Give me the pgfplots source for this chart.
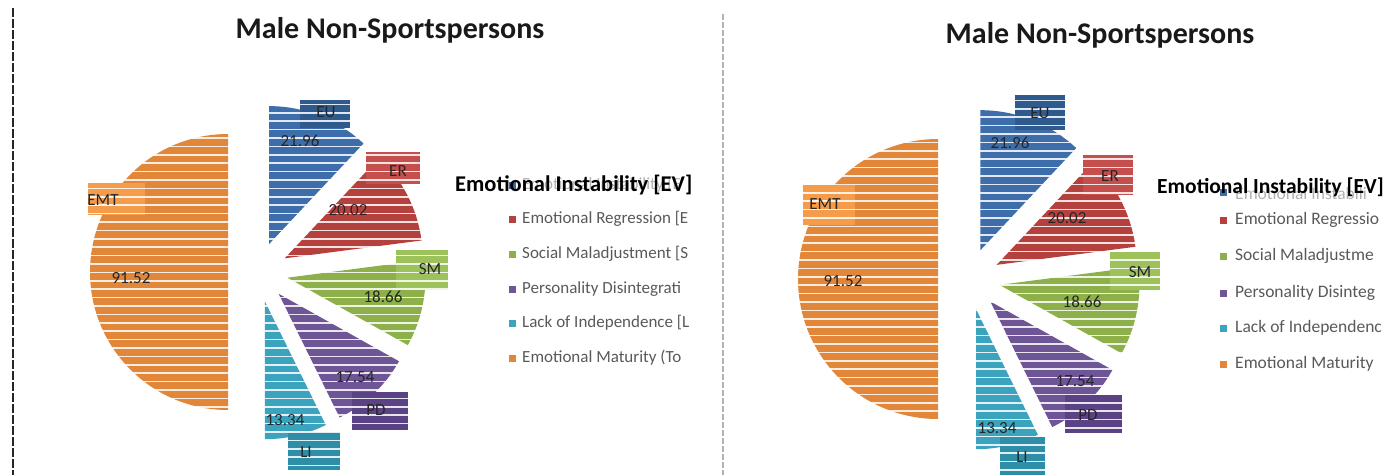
\documentclass[border=0pt]{standalone}
\usepackage{pgfplots}
\pgfplotsset{compat=1.18}
\usepackage{fontspec}
\setmainfont{Carlito}
\usetikzlibrary{calc}

\definecolor{cEU}{HTML}{3D6DAA}
\definecolor{cER}{HTML}{B4413E}
\definecolor{cSM}{HTML}{8DB04B}
\definecolor{cPD}{HTML}{6E5596}
\definecolor{cLI}{HTML}{3BA3BD}
\definecolor{cEMT}{HTML}{E2863A}
\definecolor{bEU}{HTML}{2E5A8E}
\definecolor{bER}{HTML}{C44F4C}
\definecolor{bSM}{HTML}{9EC25B}
\definecolor{bPD}{HTML}{5A4284}
\definecolor{bLI}{HTML}{2F8EA7}
\definecolor{bEMT}{HTML}{F49C4A}

% component values (EU, ER, SM, PD, LI) and the total EMT
\def\piedata{21.96/cEU,20.02/cER,18.66/cSM,17.54/cPD,13.34/cLI}
\def\emtval{91.52}

\newcommand\pieslice[7]{% cx cy r d a1 a2 color
  \pgfmathsetmacro\pmid{(#5+#6)/2}%
  \edef\temp{\noexpand\fill[#7] ($(axis cs:#1,#2)+(\pmid:#4pt)$) -- ++(#5:#3pt) arc[start angle=#5,end angle=#6,radius=#3pt] -- cycle;}%
  \temp}

\newcommand\drawpie[4]{% cx cy r d
  \pgfmathsetmacro\tot{21.96+20.02+18.66+17.54+13.34+\emtval}%
  \pgfmathsetmacro\kdeg{360/\tot}%
  \xdef\cum{0}%
  \foreach \v/\c in \piedata {%
    \pgfmathsetmacro\aone{90-\kdeg*\cum}%
    \pgfmathsetmacro\atwo{90-\kdeg*(\cum+\v)}%
    \pieslice{#1}{#2}{#3}{#4}{\aone}{\atwo}{\c}%
    \pgfmathsetmacro\newcum{\cum+\v}%
    \xdef\cum{\newcum}%
  }%
  \pgfmathsetmacro\aemt{90+\kdeg*\emtval}%
  \pieslice{#1}{#2}{#3}{#4}{90}{\aemt}{cEMT}%
}

\begin{document}
\begin{tikzpicture}
\begin{axis}[hide axis, x=1pt, y=1pt, y dir=reverse,
  xmin=0, xmax=1393, ymin=0, ymax=475, clip=false, scale only axis]
  \coordinate (O) at (axis cs:0,0);
  % left chart
  \drawpie{258}{272}{138}{30}
  \fill[bEU] (axis cs:300,100) rectangle (axis cs:350,128);
  \fill[bER] (axis cs:366,152) rectangle (axis cs:420,184);
  \fill[bSM] (axis cs:396,250) rectangle (axis cs:448,290);
  \fill[bPD] (axis cs:352,392) rectangle (axis cs:408,430);
  \fill[bLI] (axis cs:288,432) rectangle (axis cs:340,470);
  \fill[bEMT] (axis cs:88,183) rectangle (axis cs:145,215);
  % right chart
  \drawpie{969}{279}{140}{31}
  \fill[bEU] (axis cs:1015,95) rectangle (axis cs:1065,130);
  \fill[bER] (axis cs:1083,155) rectangle (axis cs:1133,195);
  \fill[bSM] (axis cs:1110,252) rectangle (axis cs:1160,290);
  \fill[bPD] (axis cs:1065,395) rectangle (axis cs:1122,433);
  \fill[bLI] (axis cs:1000,437) rectangle (axis cs:1045,475);
  \fill[bEMT] (axis cs:803,185) rectangle (axis cs:855,225);
  % scan stripes
  \pgfplotsinvokeforeach{0,...,45}{%
    \draw[white, line width=1.5pt, opacity=0.85] (axis cs:80,{96+#1*8.4}) -- (axis cs:452,{96+#1*8.4});
    \draw[white, line width=1.5pt, opacity=0.85] (axis cs:790,{92+#1*8.4}) -- (axis cs:1162,{92+#1*8.4});
  }
\end{axis}

\begin{scope}[shift={(O)}, x=1pt, y=-1pt]
  % frame lines
  \draw[black!85, dash pattern=on 9pt off 2pt, line width=1.8pt] (13,8) -- (13,475);
  \draw[black!30, dash pattern=on 6pt off 2pt, line width=1.2pt] (723,14) -- (723,475);
  % titles
  \node[font=\bfseries\fontsize{30}{36}\selectfont, text=black!90] at (390,30) {Male Non-Sportspersons};
  \node[font=\bfseries\fontsize{30}{36}\selectfont, text=black!90] at (1100,35) {Male Non-Sportspersons};
  % data labels
  \begin{scope}[every node/.style={font=\fontsize{17}{20}\selectfont, text=black!85, inner sep=0pt}]
    \node at (300,141) {21.96};
    \node at (348,210) {20.02};
    \node at (383,297) {18.66};
    \node at (355,377) {17.54};
    \node at (285,420) {13.34};
    \node at (131,278) {91.52};
    \node at (326,112) {EU};
    \node at (398,171) {ER};
    \node at (430,269) {SM};
    \node at (376,410) {PD};
    \node at (306,452) {LI};
    \node at (103,200) {EMT};
    \node at (1010,143) {21.96};
    \node at (1067,218) {20.02};
    \node at (1082,302) {18.66};
    \node at (1075,381) {17.54};
    \node at (997,428) {13.34};
    \node at (843,281) {91.52};
    \node at (1040,113) {EU};
    \node at (1110,176) {ER};
    \node at (1140,272) {SM};
    \node at (1088,415) {PD};
    \node at (1022,457) {LI};
    \node at (825,204) {EMT};
  \end{scope}
  % left legend (cut at the chart's right edge, as in the reference)
  \fill[cEU] (509,181.5) rectangle (516,188.5);
  \node[anchor=west, inner sep=0pt, font=\fontsize{17}{20}\selectfont, text=black!30] at (522,185) {Emotional Instability [E};
  \foreach \y/\c/\t in {219/cER/Emotional Regression [E,254/cSM/Social Maladjustment [S,289/cPD/Personality Disintegrati,323/cLI/Lack of Independence [L,358/cEMT/Emotional Maturity (To} {
    \fill[\c] (509,\y-3.5) rectangle (516,\y+3.5);
    \node[anchor=west, inner sep=0pt, font=\fontsize{17}{20}\selectfont, text=black!65] at (522,\y) {\t};
  }
  \node[anchor=west, inner sep=0pt, font=\bfseries\fontsize{22.5}{26}\selectfont] at (455,185) {Emotional Instability [EV]};
  % right legend
  \fill[cEU] (1220,188.5) rectangle (1227,195.5);
  \node[anchor=west, inner sep=0pt, font=\fontsize{17.5}{20}\selectfont, text=black!30] at (1235,193) {Emotional Instabili};
  \foreach \y/\c/\t in {220/cER/Emotional Regressio,256/cSM/Social Maladjustme,293/cPD/Personality Disinteg,328/cLI/Lack of Independenc,364/cEMT/Emotional Maturity} {
    \fill[\c] (1220,\y-3.5) rectangle (1227,\y+3.5);
    \node[anchor=west, inner sep=0pt, font=\fontsize{17.5}{20}\selectfont, text=black!65] at (1235,\y) {\t};
  }
  \node[anchor=west, inner sep=0pt, font=\bfseries\fontsize{21.5}{26}\selectfont] at (1157,187) {Emotional Instability [EV]};
  \pgfresetboundingbox
  \path[use as bounding box] (0,0) rectangle (1393,475);
\end{scope}
\end{tikzpicture}
\end{document}
